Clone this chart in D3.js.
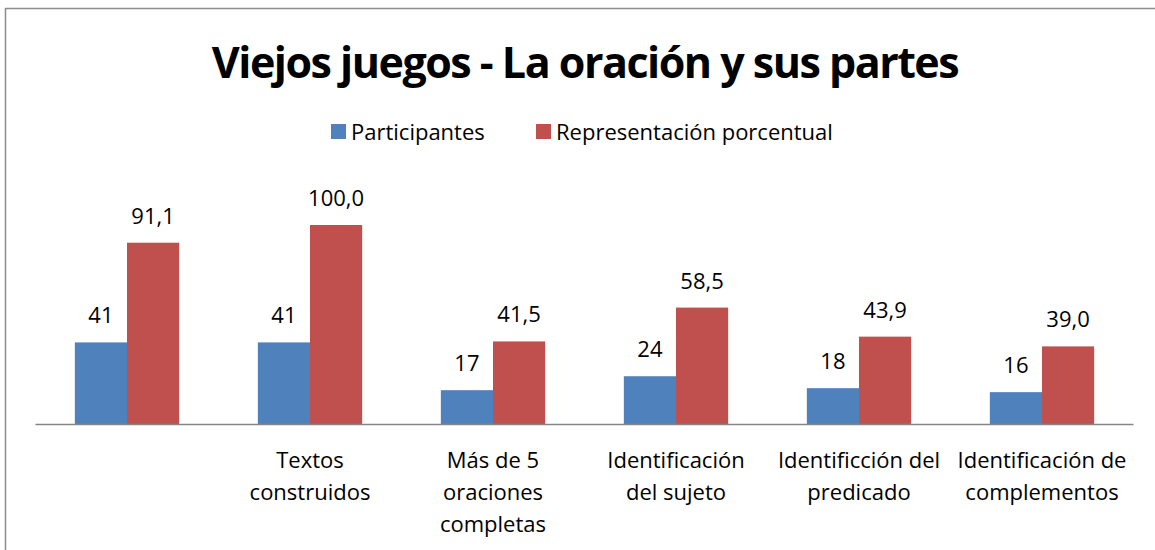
<!DOCTYPE html>
<html>
<head>
<meta charset="utf-8">
<script src="https://cdn.jsdelivr.net/npm/d3@7"></script>
<style>
	body { margin: 0; background: #fff; }
	svg { display: block; font-family: 'Open Sans', sans-serif; }
</style>
</head>
<body>
<svg id="chart" width="1155" height="550"></svg>
<script>
// ________ data ________
const categories = [
	[''],
	['Textos', 'construidos'],
	['Más de 5', 'oraciones', 'completas'],
	['Identificación', 'del sujeto'],
	['Identificción del', 'predicado'],
	['Identificación de', 'complementos']
];
const participantes = [41, 41, 17, 24, 18, 16];
const porcentaje = [91.1, 100.0, 41.5, 58.5, 43.9, 39.0];
const seriesNames = ['Participantes', 'Representación porcentual'];
const colors = ['#4F81BD', '#C0504D'];

const svg = d3.select('#chart');

// outer frame
svg.append('rect')
	.attr('x', 5.5).attr('y', 8.5)
	.attr('width', 1170).attr('height', 560)
	.attr('fill', 'none')
	.attr('stroke', '#8c8c8c')
	.attr('stroke-width', 1.5)

// title
svg.append('text')
	.attr('x', 585).attr('y', 78)
	.attr('text-anchor', 'middle')
	.style('font-size', '43px')
	.style('font-weight', 'bold')
	.style('letter-spacing', '-1.5px')
	.text('Viejos juegos - La oración y sus partes')

// scales
const x0 = d3.scaleBand()
	.domain(d3.range(categories.length))
	.range([35.5, 1133.5])
	.paddingInner(0.43)
	.paddingOuter(0.215)
const x1 = d3.scaleBand()
	.domain([0, 1])
	.range([0, x0.bandwidth()])
const y = d3.scaleLinear()
	.domain([0, 120])
	.range([424, 424 - 238.8])

const rows = categories.map((c, i) => ({i, values: [participantes[i], porcentaje[i]]}))
const groups = svg.append('g').selectAll('g')
	.data(rows)
	.join('g')
	.attr('transform', d => `translate(${x0(d.i)},0)`)

groups.selectAll('rect')
	.data(d => d.values.map((v, s) => ({v, s})))
	.join('rect')
	.attr('x', d => x1(d.s))
	.attr('y', d => y(d.v))
	.attr('width', x1.bandwidth())
	.attr('height', d => y(0) - y(d.v))
	.attr('fill', d => colors[d.s])

groups.selectAll('text.value')
	.data(d => d.values.map((v, s) => ({v, s})))
	.join('text')
	.attr('class', 'value')
	.attr('x', d => x1(d.s) + x1.bandwidth() / 2)
	.attr('y', d => y(d.v) - 19)
	.attr('text-anchor', 'middle')
	.style('font-size', '22px')
	.text(d => d.s === 0 ? d3.format('d')(d.v) : d3.format('.1f')(d.v).replace('.', ','))

// axis line
svg.append('line')
	.attr('x1', 35.5).attr('x2', 1133.5)
	.attr('y1', y(0) + 0.5).attr('y2', y(0) + 0.5)
	.attr('stroke', '#868686')
	.attr('stroke-width', 1.5)

// category labels
const labels = svg.append('g').selectAll('text')
	.data(categories)
	.join('text')
	.attr('text-anchor', 'middle')
	.attr('x', (d, i) => x0(i) + x0.bandwidth() / 2)
	.attr('y', 468)
	.style('font-size', '22px')
labels.selectAll('tspan')
	.data(d => d)
	.join('tspan')
	.attr('x', function() { return this.parentNode.getAttribute('x') })
	.attr('dy', (d, i) => i ? 32 : 0)
	.text(d => d)

// legend
const legendX = [331, 536]
const legend = svg.append('g').selectAll('g')
	.data(seriesNames)
	.join('g')
	.attr('transform', (d, i) => `translate(${legendX[i]},124)`)
legend.append('rect')
	.attr('width', 15).attr('height', 15)
	.attr('fill', (d, i) => colors[i])
legend.append('text')
	.attr('x', 20).attr('y', 16)
	.style('font-size', '22px')
	.text(d => d)
</script>
</body>
</html>
